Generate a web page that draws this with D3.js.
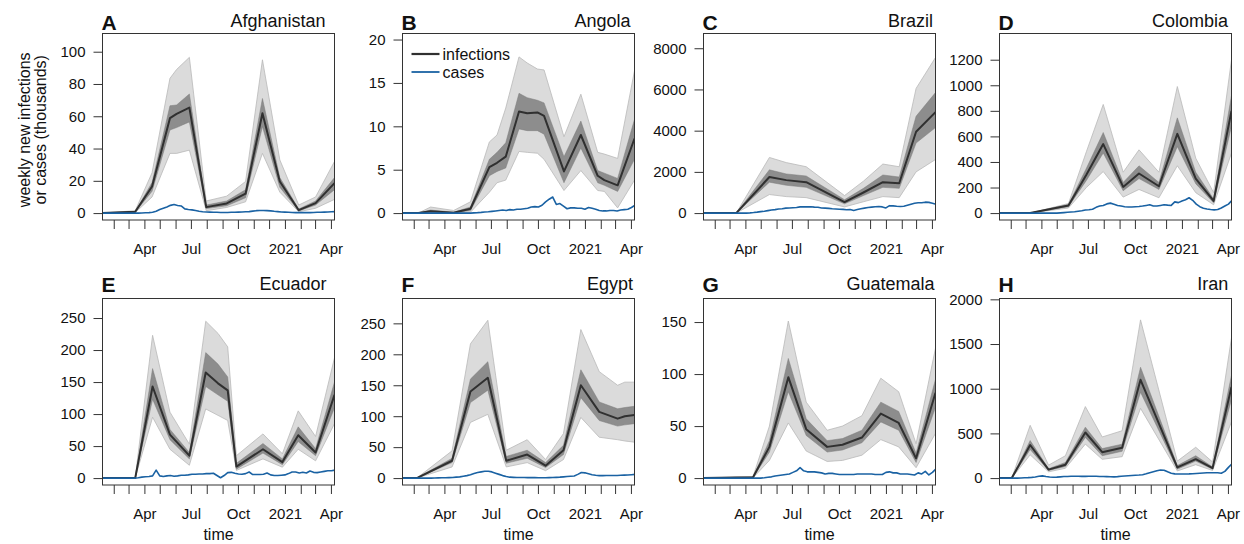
<!DOCTYPE html>
<html>
<head>
<meta charset="utf-8">
<script src="https://cdn.jsdelivr.net/npm/d3@7"></script>
<style>
  html, body { margin: 0; padding: 0; background: #fff; }
  svg text { font-family: "Liberation Sans", Arial, Helvetica, sans-serif; fill: #111; }
</style>
</head>
<body>
<svg id="chart" width="1244" height="544"></svg>
<script>
// ---- data -------------------------------------------------------------
// infection estimates: [date, lower 95%, lower 50%, median, upper 50%, upper 95%] (thousands)
const afghanistanInfections = [
  ["2020-01-10",0,0,0,0,0],
  ["2020-03-14",0.3,0.5,0.8,1.0,1.5],
  ["2020-04-16",10,13.5,16.5,19,25],
  ["2020-05-21",37,51.5,58.8,66.5,83.5],
  ["2020-06-03",37,53,61.5,67,89],
  ["2020-06-28",39,56.5,65.4,73.8,96.5],
  ["2020-07-31",1.5,2.8,3.7,5,7.5],
  ["2020-09-09",3.5,4.5,6,7.5,10.5],
  ["2020-10-16",7,9.5,12,14.5,19.6],
  ["2020-11-18",37,53.6,61.9,71,95],
  ["2020-12-22",13,16,19.6,22,33],
  ["2021-01-28",0.8,1.3,1.8,2.5,5],
  ["2021-03-02",3,5,6.2,7.5,10],
  ["2021-04-08",8.5,14.5,18.6,22,32]
];
const angolaInfections = [
  ["2020-01-10",0,0,0,0,0],
  ["2020-02-10",0,0,0,0,0],
  ["2020-03-05",0,0.1,0.2,0.35,0.7],
  ["2020-04-19",0,0.02,0.05,0.1,0.3],
  ["2020-05-22",0.1,0.3,0.5,0.7,1.3],
  ["2020-06-28",2.4,4.3,5.3,6.2,8.2],
  ["2020-07-13",3.5,4.8,5.8,7.0,9.0],
  ["2020-07-30",3.8,5.2,6.5,8.1,12.1],
  ["2020-08-25",7.1,9.7,11.7,13.8,18.0],
  ["2020-09-10",7.0,9.5,11.5,13.3,17.3],
  ["2020-09-30",6.9,9.5,11.6,13.0,16.6],
  ["2020-10-13",6.2,9.1,11.2,12.7,16.5],
  ["2020-11-21",2.6,3.5,4.8,6.5,8.8],
  ["2020-12-24",4.9,7.5,9.0,10.6,13.7],
  ["2021-01-26",2.6,3.5,4.3,4.9,7.0],
  ["2021-02-08",2.5,3.2,3.8,4.6,6.8],
  ["2021-03-06",0.6,2.5,3.2,4.0,6.3],
  ["2021-04-08",3.8,6.2,8.6,10.8,16.4]
];
const brazilInfections = [
  ["2020-01-10",0,0,0,0,0],
  ["2020-03-14",0,0,0,0,0],
  ["2020-05-18",900,1500,1750,2100,2700],
  ["2020-06-20",800,1350,1600,1900,2450],
  ["2020-07-29",750,1250,1500,1800,2250],
  ["2020-10-12",300,450,533,650,850],
  ["2020-11-18",550,850,1000,1200,1550],
  ["2020-12-26",800,1250,1500,1850,2380],
  ["2021-01-27",750,1200,1450,1750,2250],
  ["2021-03-01",2000,3400,3950,4700,6050],
  ["2021-04-08",2600,4150,4900,5850,7550]
];
const colombiaInfections = [
  ["2020-01-10",0,0,0,0,0],
  ["2020-03-10",0,0,0,0,0],
  ["2020-05-24",40,50,60,68,75],
  ["2020-06-28",200,255,300,350,480],
  ["2020-07-31",325,470,540,630,850],
  ["2020-09-08",125,175,205,240,320],
  ["2020-10-09",185,270,310,370,495],
  ["2020-11-17",120,185,210,240,320],
  ["2020-12-23",370,520,620,745,990],
  ["2021-01-28",160,230,270,320,430],
  ["2021-03-04",65,80,95,110,160],
  ["2021-04-08",470,680,800,920,1200]
];
const ecuadorInfections = [
  ["2020-01-10",0,0,0,0,0],
  ["2020-03-14",0,0,0,0,0],
  ["2020-04-17",95,123,143,171,223],
  ["2020-05-21",45,60,68,76,103],
  ["2020-06-28",20,30,35,40,53],
  ["2020-07-30",108,143,165,196,245],
  ["2020-08-23",98,130,148,178,226],
  ["2020-09-11",90,120,137,158,205],
  ["2020-09-28",12,14,18,23,35],
  ["2020-11-19",30,39,45,54,69],
  ["2020-12-27",17,21,25,30,38],
  ["2021-01-27",45,57,67,80,105],
  ["2021-03-02",27,35,40,46,65],
  ["2021-04-08",85,110,130,150,188]
];
const egyptInfections = [
  ["2020-01-10",0,0,0,0,0],
  ["2020-02-07",0,0,0,0,0],
  ["2020-04-16",18,25,28,32,44],
  ["2020-05-22",90,122,140,160,217],
  ["2020-06-25",103,142,162,188,255],
  ["2020-07-31",18,24,28,35,45],
  ["2020-09-10",25,32,38,45,62],
  ["2020-10-16",12,17,20,25,30],
  ["2020-11-20",30,38,45,53,72],
  ["2020-12-24",98,130,150,175,240],
  ["2021-01-29",66,93,107,123,172],
  ["2021-03-06",62,84,96,112,150],
  ["2021-03-20",60,86,100,114,155],
  ["2021-04-08",58,88,102,116,155]
];
const guatemalaInfections = [
  ["2020-01-10",0,0,0,0,0],
  ["2020-04-16",0.3,0.5,0.8,1,1.5],
  ["2020-05-18",17,25,30,36,50],
  ["2020-06-24",53,83,97,115,151],
  ["2020-07-29",26,41,47,57,73],
  ["2020-09-08",16,25,30,36,46],
  ["2020-10-08",17,27,32,38,50],
  ["2020-11-15",22,34,39,46,60],
  ["2020-12-22",37,54,62,73,96],
  ["2021-01-26",30,46,53,64,83],
  ["2021-03-01",10,15,19,24,33],
  ["2021-04-08",43,68,82,95,125]
];
const iranInfections = [
  ["2020-01-10",0,0,0,0,0],
  ["2020-02-03",0,0,0,0,0],
  ["2020-03-10",260,320,370,420,590],
  ["2020-04-15",70,85,95,105,145],
  ["2020-05-18",110,130,150,175,250],
  ["2020-06-26",380,455,510,570,800],
  ["2020-07-29",210,250,290,330,460],
  ["2020-09-06",240,300,340,380,530],
  ["2020-10-12",780,960,1100,1240,1770],
  ["2020-12-23",80,100,120,140,190],
  ["2021-01-28",150,190,212,250,345],
  ["2021-03-02",85,100,112,125,180],
  ["2021-04-08",630,880,1020,1150,1570]
];

// weekly reported cases (thousands), one value per week from casesStart
const casesStart = "2020-01-10";
const afghanistanCases = [0,0,0,0,0,0,0,0,0,0,0, 0.1,0.2,0.3,0.5,1.2,2.2,3.0,3.8,4.8,5.3,
  4.7,4.4,2.6,2.2,2.0,1.6,1.1,0.8,0.7,0.6, 0.5,0.5,0.4,0.4,0.4,0.5,0.5,0.6,0.7,0.8,
  0.9,1.2,1.5,1.6,1.6,1.5,1.4,1.1,0.9,0.7, 0.6,0.5,0.4,0.3,0.3,0.3,0.3,0.3,0.4,0.5,
  0.5,0.6,0.7,0.8,0.9];
const angolaCases = [0,0,0,0,0,0,0,0,0,0,0,0,0,0,0,0,0,0,0,0,
  0.03,0.05,0.08,0.12,0.15,0.2,0.25,0.3,0.35,0.3, 0.4,0.35,0.45,0.45,0.5,0.55,0.7,0.75,0.7,0.9,
  1.3,1.6,1.85,1.0,1.1,0.8,0.5,0.6,0.6,0.55, 0.55,0.45,0.65,0.55,0.45,0.3,0.25,0.25,0.3,0.3,
  0.25,0.35,0.4,0.45,0.65,0.9];
const brazilCases = [0,0,0,0,0,0,0,0,0,0,0,0,0,
  10,25,45,70,90,120,150,170,200,210, 240,250,260,270,300,310,300,310,290,280,
  250,240,230,210,200,190,180,160,170,130, 170,210,240,270,290,310,320,300,250,360,
  350,330,320,330,380,430,480,500,500,530, 520,480,430];
const colombiaCases = [0,0,0,0,0,0,0,0,0,0,0,0,0,0,0,0,0,
  2,4,6,8,10,14,18,24,26,30, 45,55,60,72,78,70,60,55,50,48,
  48,50,52,55,60,65,55,55,60,65, 62,60,88,82,95,105,120,100,70,50,
  38,32,28,25,28,40,55,70,100];
const ecuadorCases = [0,0,0,0,0,0,0,0,0,0,
  0.5,1.5,2,2.5,3.5,12.5,3.5,2.5,3.5,4, 3,3.5,4.5,4.5,5,6,6,6.5,6.5,7,
  7,7.5,4,0.5,4,8.5,9,7.5,6.5,6, 7,9.5,5.5,5.5,5.5,6,8,5,4,4,
  4.5,5,7,9.5,9.5,8,9,8,11,9, 8.5,9.5,10.5,11.5,11.5,12.5];
const egyptCases = [0,0,0,0,0,0,0,0,0,
  0.2,0.3,0.5,0.6,0.8,1,1.5,2,3,4, 5.5,7.5,9,10,11,11,10,8,6,4,
  2.5,1.5,1.2,1,1,1,0.8,0.8,0.7,0.6, 0.6,0.6,0.7,0.9,1.2,1.5,2,2.5,3,3.5,
  6,9,8.5,7,5.5,4.5,4,4,4.2,4.2, 4.2,4.3,4.5,4.8,5,5.5,6];
const guatemalaCases = [0,0,0,0,0,0,0,0,0,0,0,0,0,0,0,0,0,
  0.3,0.8,1.2,2,2.5,3,3.5,4,5.5,7, 10,7,6,6,6,5.5,5,4,4.5,4.5,
  4,3.5,3.5,3.5,3.5,3.5,4,4,4,4, 4,3.5,3.5,3.5,5.5,6,5,5,4,4,
  4,3.5,3,5,4,6.5,3,5.5,9];
const iranCases = [0,0,0,0,0,0,
  1,3,5,8,12,20,25,18,12,10, 11,14,17,18,20,21,20,19,19,20,
  21,20,18,17,16,15,14,16,20,23, 26,29,32,34,38,48,60,72,83,90,
  88,70,55,47,45,45,46,47,49,52, 55,57,59,60,60,60,55,75,120,160];

const panelLetters = ["A","B","C","D","E","F","G","H"];
const countries = ["Afghanistan","Angola","Brazil","Colombia","Ecuador","Egypt","Guatemala","Iran"];
const yMaxima = [107, 19.9, 8380, 1351, 269.7, 279, 166, 1932];
const yTicks = [
  [0,20,40,60,80,100],
  [0,5,10,15,20],
  [0,2000,4000,6000,8000],
  [0,200,400,600,800,1000,1200],
  [0,50,100,150,200,250],
  [0,50,100,150,200,250],
  [0,50,100,150],
  [0,500,1000,1500,2000]
];
const monthTicks = ["2020-02-01","2020-03-01","2020-04-01","2020-05-01","2020-06-01","2020-07-01",
  "2020-08-01","2020-09-01","2020-10-01","2020-11-01","2020-12-01","2021-01-01","2021-02-01",
  "2021-03-01","2021-04-01"];
const monthLabels = ["","","Apr","","","Jul","","","Oct","","","2021","","","Apr"];
const timeRange = ["2020-01-10","2021-04-08"];
const legendLabels = ["infections","cases"];

const infectionSets = [afghanistanInfections, angolaInfections, brazilInfections, colombiaInfections,
  ecuadorInfections, egyptInfections, guatemalaInfections, iranInfections];
const caseSets = [afghanistanCases, angolaCases, brazilCases, colombiaCases,
  ecuadorCases, egyptCases, guatemalaCases, iranCases];

// ---- layout -----------------------------------------------------------
const colLeft = [102.5, 402.5, 703.5, 999.5];
const rowTop = [33.5, 298.5];
const boxW = 232, boxH = 186.5;
const letterOffset = [4, 6.5], titleOffset = [6.5, 9];
// right inset of each country name from the frame edge
const titleInset = [9, 4, 2.5, 3.5, 8, 1.5, 1, 3.3];

const COL_OUTER = "#dbdbdb", COL_OUTER_EDGE = "#b9b9b9";
const COL_INNER = "#8d8d8d";
const COL_MED = "#303030";
const COL_CASES = "#1a62a3";

const parse = d3.timeParse("%Y-%m-%d");
const svg = d3.select("#chart");
const defs = svg.append("defs");

const tStart = parse(timeRange[0]), tEnd = parse(timeRange[1]);
const caseStartDate = parse(casesStart);
const tickDates = monthTicks.map(parse);

infectionSets.forEach((rows, k) => {
  const col = k % 4, row = Math.floor(k / 4);
  const left = colLeft[col], top = rowTop[row];
  const g = svg.append("g").attr("transform", `translate(${left},${top})`);

  const x = d3.scaleTime().domain([tStart, tEnd]).range([0, boxW]);
  const yMax = yMaxima[k];
  const y = d3.scaleLinear().domain([-0.04 * yMax, 1.04 * yMax]).range([boxH, 0]);

  const est = rows.map(r => ({date: parse(r[0]), lo95: r[1], lo50: r[2], med: r[3], hi50: r[4], hi95: r[5]}));
  const cases = caseSets[k].map((v, i) => ({date: d3.timeDay.offset(caseStartDate, 7 * i), v}));

  const clipId = "clip" + k;
  defs.append("clipPath").attr("id", clipId)
    .append("rect").attr("x", 0).attr("y", 0).attr("width", boxW).attr("height", boxH);
  const plot = g.append("g").attr("clip-path", `url(#${clipId})`);

  const outer = d3.area().x(d => x(d.date)).y0(d => y(d.lo95)).y1(d => y(d.hi95));
  const inner = d3.area().x(d => x(d.date)).y0(d => y(d.lo50)).y1(d => y(d.hi50));
  const medLine = d3.line().x(d => x(d.date)).y(d => y(d.med));
  const caseLine = d3.line().x(d => x(d.date)).y(d => y(d.v)).curve(d3.curveLinear);

  plot.append("path").datum(est).attr("d", outer)
    .attr("fill", COL_OUTER).attr("stroke", COL_OUTER_EDGE).attr("stroke-width", 0.8);
  plot.append("path").datum(est).attr("d", inner)
    .attr("fill", COL_INNER).attr("stroke", "#7d7d7d").attr("stroke-width", 0.5);
  plot.append("path").datum(est).attr("d", medLine)
    .attr("fill", "none").attr("stroke", COL_MED).attr("stroke-width", 2).attr("stroke-linejoin", "round");
  plot.append("path").datum(cases).attr("d", caseLine)
    .attr("fill", "none").attr("stroke", COL_CASES).attr("stroke-width", 1.6).attr("stroke-linejoin", "round");

  // frame
  g.append("rect").attr("x", 0).attr("y", 0).attr("width", boxW).attr("height", boxH)
    .attr("fill", "none").attr("stroke", "#333").attr("stroke-width", 1);

  // x axis: monthly ticks with quarterly labels
  const xAxis = d3.axisBottom(x).tickValues(tickDates)
    .tickFormat((d, i) => monthLabels[i]).tickSizeInner(9).tickSizeOuter(0).tickPadding(14);
  const gx = g.append("g").attr("transform", `translate(0,${boxH})`).call(xAxis);
  gx.select(".domain").remove();
  gx.selectAll(".tick line").attr("stroke", "#333");
  gx.selectAll(".tick text").attr("font-size", 15).attr("fill", "#111")
    .attr("font-family", "Liberation Sans, Arial, sans-serif").attr("dy", "0.71em");

  // y axis
  const yAxis = d3.axisLeft(y).tickValues(yTicks[k]).tickFormat(d3.format("d"))
    .tickSizeInner(9).tickSizeOuter(0).tickPadding(8);
  const gy = g.append("g").call(yAxis);
  gy.select(".domain").remove();
  gy.selectAll(".tick line").attr("stroke", "#333");
  gy.selectAll(".tick text").attr("font-size", 15).attr("fill", "#111")
    .attr("font-family", "Liberation Sans, Arial, sans-serif");

  // panel letter and country name
  g.append("text").attr("x", -1).attr("y", -letterOffset[row])
    .attr("font-size", 21).attr("font-weight", "bold").text(panelLetters[k]);
  g.append("text").attr("x", boxW - titleInset[k]).attr("y", -titleOffset[row])
    .attr("text-anchor", "end").attr("font-size", 18).text(countries[k]);

  if (row === 1) {
    g.append("text").attr("x", boxW / 2).attr("y", boxH + 55)
      .attr("text-anchor", "middle").attr("font-size", 16).text("time");
  }

  if (k === 1) {
    const lg = g.append("g");
    [COL_MED, COL_CASES].forEach((c, j) => {
      const ly = 20.5 + 18 * j;
      lg.append("line").attr("x1", 9).attr("x2", 37).attr("y1", ly).attr("y2", ly)
        .attr("stroke", c).attr("stroke-width", j === 0 ? 2.2 : 1.8);
      lg.append("text").attr("x", 40).attr("y", ly + 5.5).attr("font-size", 16).text(legendLabels[j]);
    });
  }
});

// shared y-axis title
const yTitle = svg.append("g").attr("transform", `translate(0,${rowTop[0] + boxH / 2 + 3})`);
["weekly new infections", "or cases (thousands)"].forEach((t, j) => {
  yTitle.append("text").attr("transform", `translate(${30 + 15.5 * j},0) rotate(-90)`)
    .attr("text-anchor", "middle").attr("font-size", 16).text(t);
});
</script>
</body>
</html>
